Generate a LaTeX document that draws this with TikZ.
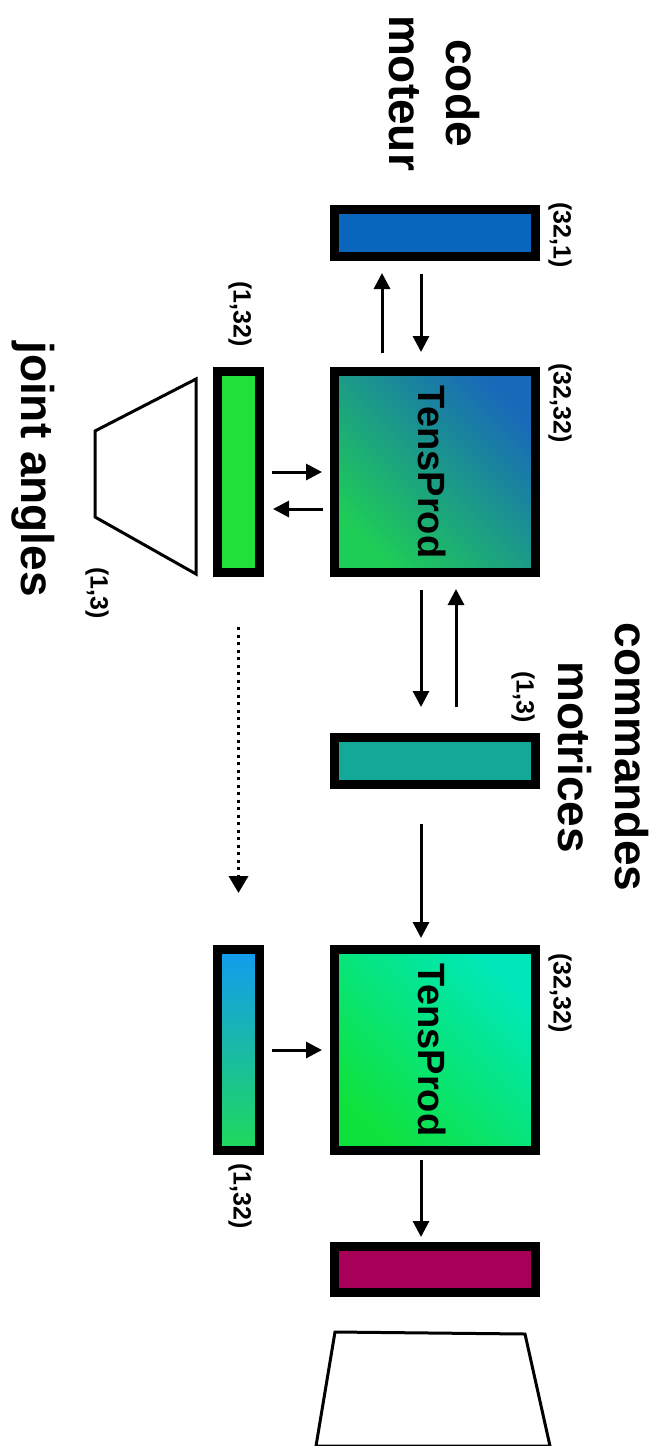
\documentclass[tikz,border=0pt]{standalone}
\usepackage{fontspec}
\setmainfont{Liberation Sans}
\usetikzlibrary{arrows.meta,calc}
\definecolor{codeblue}{RGB}{10,102,188}
\definecolor{tpAgreen}{RGB}{30,205,85}
\definecolor{tpAblue}{RGB}{25,105,185}
\definecolor{jagreen}{RGB}{34,224,58}
\definecolor{mcteal}{RGB}{20,168,152}
\definecolor{tpBgreen}{RGB}{15,225,60}
\definecolor{tpBcyan}{RGB}{0,232,185}
\definecolor{jbblue}{RGB}{20,155,240}
\definecolor{jbgreen}{RGB}{30,218,90}
\definecolor{outmag}{RGB}{168,0,88}
\begin{document}
\begin{tikzpicture}[x=1pt,y=-1pt,
  box/.style={draw=black, line width=9pt, inner sep=0pt, minimum width=201pt},
  vbox/.style={draw=black, line width=9pt, inner sep=0pt, minimum height=201pt, minimum width=42pt},
  arr/.style={line width=3pt, -{Triangle[length=16pt,width=16pt]}},
  dotarr/.style={line width=3.5pt, dash pattern=on 3pt off 4.5pt, -{Triangle[length=17pt,width=19pt]}},
  lbl/.style={font=\bfseries\fontsize{25}{30}\selectfont, rotate=-90, inner sep=0pt},
  big/.style={font=\bfseries\fontsize{46}{57}\selectfont, rotate=-90, align=center, inner sep=0pt},
  tpt/.style={font=\bfseries\fontsize{38}{45}\selectfont, rotate=-90, inner sep=0pt},
  trap/.style={line width=3pt, line join=miter}]
\useasboundingbox (0,0) rectangle (652,1446);

% boxes
\node[box, minimum height=47pt, fill=codeblue] (code) at (435,233) {};
\node[box, minimum height=201pt, left color=tpAblue, right color=tpAgreen, shading angle=-45] (tp1) at (435,472) {};
\node[vbox, fill=jagreen] (ja1) at (238.5,472) {};
\node[box, minimum height=47pt, fill=mcteal] (mc) at (435,761) {};
\node[box, minimum height=201pt, left color=tpBcyan, right color=tpBgreen, shading angle=-45] (tp2) at (435,1050) {};
\node[vbox, top color=jbblue, bottom color=jbgreen] (ja2) at (238.5,1050) {};
\node[box, minimum height=46pt, fill=outmag] (out) at (435,1269.5) {};

% trapezoids
\draw[trap] (196,379) -- (196,574) -- (95,517) -- (95,431) -- cycle;
\draw[trap] (335,1332) -- (525,1334) -- (550,1446) -- (316,1446) -- cycle;

% arrows code <-> tp1
\draw[arr, shorten <=14pt, shorten >=12pt] ([xshift=-53pt]tp1.north) -- ([xshift=-53pt]code.south);
\draw[arr, shorten <=13pt, shorten >=15pt] ([xshift=-14pt]code.south) -- ([xshift=-14pt]tp1.north);
% joint <-> tp1
\coordinate (l1s) at ([yshift=-37pt]tp1.west);
\coordinate (l1e) at ([yshift=-37pt]ja1.east);
\draw[arr, shorten <=8pt, shorten >=8pt] (ja1.east) -- (tp1.west);
\draw[arr, shorten <=7pt, shorten >=9pt] (l1s) -- (l1e);
% tp1 <-> mc
\draw[arr, shorten <=13pt, shorten >=26pt] ([xshift=-14pt]tp1.south) -- ([xshift=-14pt]mc.north);
\draw[arr, shorten <=26pt, shorten >=12pt] ([xshift=21pt]mc.north) -- ([xshift=21pt]tp1.south);
% mc -> tp2
\draw[arr, shorten <=35pt, shorten >=7pt] ([xshift=-14pt]mc.south) -- ([xshift=-14pt]tp2.north);
% ja2 -> tp2
\draw[arr, shorten <=8pt, shorten >=8pt] (ja2.east) -- (tp2.west);
% tp2 -> out
\draw[arr, shorten <=5pt, shorten >=5pt] ([xshift=-14pt]tp2.south) -- ([xshift=-14pt]out.north);
% dotted ja1 -> ja2
\draw[dotarr, shorten <=50pt, shorten >=52pt] (ja1.south) -- (ja2.north);

% texts
\node[big] (tcm) at (434,93) {code\\moteur};
\node[big] (tcmd) at (603,757) {commandes\\motrices};
\node[big] (tja) at (33,469) {joint angles};
\node[tpt] (tt1) at ([xshift=-3pt]tp1.center) {TensProd};
\node[tpt] (tt2) at ([xshift=-3pt]tp2.center) {TensProd};

% dimension labels
\node[lbl, anchor=west] (d1) at ([xshift=20pt,yshift=3pt]code.north east) {(32,1)};
\node[lbl, anchor=west] (d2) at ([xshift=20pt,yshift=4pt]tp1.north east) {(32,32)};
\node[lbl, anchor=west] (d3) at ([xshift=20pt,yshift=-8pt]tp2.north east) {(32,32)};
\node[lbl, anchor=east] (d4) at ([xshift=1.5pt,yshift=20pt]ja1.north) {(1,32)};
\node[lbl, anchor=west] (d5) at ([xshift=1.5pt,yshift=-8pt]ja2.south) {(1,32)};
\node[lbl, anchor=west] (d6) at (97,567) {(1,3)};
\node[lbl, anchor=east] (d7) at ([xshift=-17pt,yshift=10pt]mc.north east) {(1,3)};
\end{tikzpicture}
\end{document}
